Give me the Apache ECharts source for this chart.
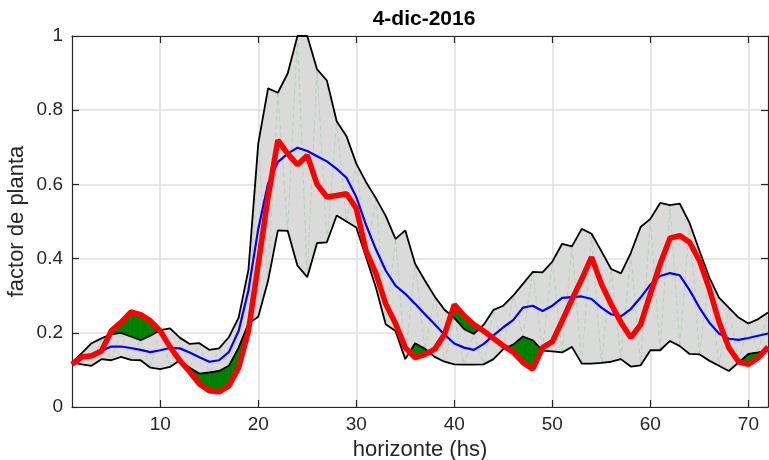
<!DOCTYPE html>
<html><head><meta charset="utf-8">
<script src="https://cdn.jsdelivr.net/npm/echarts@6/dist/echarts.min.js"></script>
<style>html,body{margin:0;padding:0;background:#fff}#c{width:769px;height:460px}</style>
</head><body><div id="c"></div>
<script>
// ---- data ----
const hours = [1,2,3,4,5,6,7,8,9,10,11,12,13,14,15,16,17,18,19,20,21,22,23,24,25,26,27,28,29,30,31,32,33,34,35,36,37,38,39,40,41,42,43,44,45,46,47,48,49,50,51,52,53,54,55,56,57,58,59,60,61,62,63,64,65,66,67,68,69,70,71,72];
const upperBound = [0.12,0.145,0.172,0.185,0.196,0.20,0.19,0.18,0.192,0.207,0.212,0.187,0.17,0.172,0.154,0.158,0.188,0.241,0.37,0.71,0.859,0.847,0.899,1.0,1.0,0.91,0.88,0.77,0.73,0.656,0.606,0.563,0.515,0.453,0.476,0.386,0.341,0.298,0.262,0.24,0.21,0.197,0.222,0.262,0.273,0.30,0.332,0.364,0.363,0.392,0.44,0.433,0.48,0.467,0.42,0.372,0.36,0.415,0.485,0.507,0.55,0.544,0.548,0.496,0.422,0.35,0.295,0.268,0.241,0.225,0.237,0.255];
const lowerBound = [0.12,0.115,0.111,0.129,0.126,0.135,0.127,0.126,0.106,0.102,0.108,0.126,0.106,0.09,0.093,0.097,0.111,0.16,0.225,0.243,0.34,0.476,0.475,0.381,0.35,0.442,0.444,0.516,0.50,0.484,0.404,0.322,0.223,0.205,0.129,0.172,0.157,0.135,0.122,0.115,0.114,0.114,0.115,0.129,0.156,0.168,0.19,0.18,0.152,0.15,0.147,0.162,0.117,0.117,0.119,0.122,0.129,0.109,0.112,0.153,0.153,0.178,0.164,0.143,0.142,0.125,0.111,0.097,0.12,0.143,0.147,0.152];
const forecastMean = [0.115,0.135,0.14,0.151,0.163,0.163,0.159,0.154,0.148,0.153,0.159,0.158,0.147,0.134,0.122,0.126,0.148,0.205,0.315,0.48,0.602,0.66,0.683,0.699,0.69,0.676,0.662,0.642,0.618,0.566,0.49,0.425,0.368,0.327,0.305,0.278,0.25,0.223,0.195,0.171,0.16,0.154,0.17,0.193,0.215,0.234,0.268,0.273,0.259,0.273,0.294,0.296,0.298,0.291,0.268,0.25,0.244,0.264,0.295,0.33,0.353,0.361,0.355,0.315,0.268,0.228,0.198,0.184,0.181,0.186,0.192,0.198];
const actual = [0.115,0.135,0.138,0.151,0.205,0.228,0.256,0.249,0.232,0.205,0.162,0.125,0.095,0.062,0.044,0.041,0.057,0.106,0.205,0.385,0.566,0.719,0.683,0.653,0.678,0.6,0.566,0.57,0.575,0.535,0.42,0.36,0.278,0.225,0.16,0.133,0.142,0.156,0.196,0.276,0.246,0.222,0.205,0.185,0.165,0.148,0.12,0.102,0.16,0.176,0.232,0.29,0.345,0.404,0.332,0.277,0.228,0.187,0.222,0.305,0.386,0.455,0.462,0.444,0.395,0.32,0.23,0.16,0.122,0.115,0.133,0.162];
const xTicks = [10,20,30,40,50,60,70];
const titleText = '4-dic-2016';
const xName = 'horizonte (hs)';
const yName = 'factor de planta';

// ---- chart ----
const n = hours.length;
const pairs = arr => hours.map((h, i) => [h, arr[i]]);
const FONT = '"Liberation Sans", Arial, Helvetica, sans-serif';
const AX = '#262626';

function renderBand(params, api) {
  const children = [];
  const pts = [];
  for (let i = 0; i < n; i++) pts.push(api.coord([hours[i], upperBound[i]]));
  for (let i = n - 1; i >= 0; i--) pts.push(api.coord([hours[i], lowerBound[i]]));
  children.push({type: 'polygon', shape: {points: pts}, style: {fill: '#dadada'}});
  for (let i = 0; i < n - 1; i++) {
    const a = i % 2 === 0 ? api.coord([hours[i], lowerBound[i]]) : api.coord([hours[i], upperBound[i]]);
    const b = i % 2 === 0 ? api.coord([hours[i + 1], upperBound[i + 1]]) : api.coord([hours[i + 1], lowerBound[i + 1]]);
    children.push({type: 'line', shape: {x1: a[0], y1: a[1], x2: b[0], y2: b[1]},
      style: {stroke: 'rgba(0,150,0,0.2)', lineWidth: 0.8, lineDash: [5, 3]}});
  }
  function excess(bound, sign) {
    for (let i = 0; i < n - 1; i++) {
      const d0 = sign * (actual[i] - bound[i]), d1 = sign * (actual[i + 1] - bound[i + 1]);
      if (d0 <= 0 && d1 <= 0) continue;
      const x0 = hours[i], x1 = hours[i + 1];
      let poly;
      if (d0 > 0 && d1 > 0) {
        poly = [[x0, bound[i]], [x1, bound[i + 1]], [x1, actual[i + 1]], [x0, actual[i]]];
      } else {
        const t = d0 / (d0 - d1);
        const xc = x0 + t * (x1 - x0), yc = bound[i] + t * (bound[i + 1] - bound[i]);
        poly = d0 > 0 ? [[x0, bound[i]], [xc, yc], [x0, actual[i]]]
                      : [[xc, yc], [x1, bound[i + 1]], [x1, actual[i + 1]]];
      }
      children.push({type: 'polygon', shape: {points: poly.map(p => api.coord(p))},
        style: {fill: '#008000', stroke: '#008000', lineWidth: 0.6}});
    }
  }
  excess(upperBound, 1);
  excess(lowerBound, -1);
  return {type: 'group', children};
}

const chart = echarts.init(document.getElementById('c'), null, {renderer: 'canvas'});
const tickStyle = {color: AX, width: 1.2};
chart.setOption({
  animation: false,
  backgroundColor: '#fff',
  title: {text: titleText, left: 419, textAlign: 'center', top: 4,
    textStyle: {fontFamily: FONT, fontSize: 21, fontWeight: 'bold', color: '#000'}},
  grid: {left: 72, right: 1, top: 36, bottom: 53, containLabel: false, outerBoundsMode: 'none'},
  xAxis: [{
    type: 'value', min: 1, max: 72, position: 'bottom',
    name: xName, nameLocation: 'middle', nameGap: 32,
    nameTextStyle: {fontFamily: FONT, fontSize: 22, color: AX},
    axisLine: {show: true, onZero: false, lineStyle: {color: AX, width: 1.2}},
    axisTick: {show: true, inside: true, length: 7, customValues: xTicks, lineStyle: tickStyle},
    axisLabel: {customValues: xTicks, fontFamily: FONT, fontSize: 19, color: AX, margin: 8},
    splitLine: {show: true, lineStyle: {color: '#dfdfdf', width: 1.5}}
  }, {
    type: 'value', min: 1, max: 72, position: 'top',
    axisLine: {show: true, onZero: false, lineStyle: {color: AX, width: 1.2}},
    axisTick: {show: true, inside: true, length: 7, customValues: xTicks, lineStyle: tickStyle},
    axisLabel: {show: false}, splitLine: {show: false}
  }],
  yAxis: [{
    type: 'value', min: 0, max: 1, interval: 0.2, position: 'left',
    name: yName, nameLocation: 'middle', nameGap: 44, nameMoveOverlap: false,
    nameTextStyle: {fontFamily: FONT, fontSize: 22, color: AX},
    axisLine: {show: true, onZero: false, lineStyle: {color: AX, width: 1.2}},
    axisTick: {show: true, inside: true, length: 7, lineStyle: tickStyle},
    axisLabel: {fontFamily: FONT, fontSize: 19, color: AX, margin: 9,
      formatter: v => String(+v.toFixed(1))},
    splitLine: {show: true, lineStyle: {color: '#dfdfdf', width: 1.5}}
  }, {
    type: 'value', min: 0, max: 1, interval: 0.2, position: 'right',
    axisLine: {show: true, onZero: false, lineStyle: {color: AX, width: 1.2}},
    axisTick: {show: true, inside: true, length: 7, lineStyle: tickStyle},
    axisLabel: {show: false}, splitLine: {show: false}
  }],
  series: [
    {type: 'custom', renderItem: renderBand, data: [[1, 0]], clip: true, z: 1, silent: true},
    {type: 'line', data: pairs(lowerBound), showSymbol: false, z: 3,
      lineStyle: {color: '#000', width: 1.8}},
    {type: 'line', data: pairs(upperBound), showSymbol: false, z: 3,
      lineStyle: {color: '#000', width: 1.8}},
    {type: 'line', data: pairs(forecastMean), showSymbol: false, z: 4,
      lineStyle: {color: '#0000ff', width: 2.2}},
    {type: 'line', data: pairs(actual), showSymbol: false, z: 5,
      lineStyle: {color: '#ff0000', width: 5.5}}
  ]
});
</script>
</body></html>
